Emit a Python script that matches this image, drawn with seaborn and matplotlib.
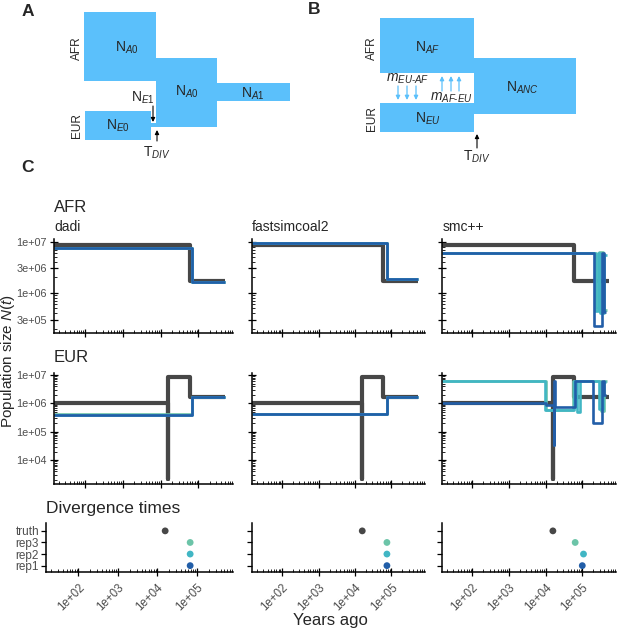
import numpy as np
import pandas as pd
import matplotlib
matplotlib.use("Agg")
import matplotlib.pyplot as plt
import seaborn as sns
from matplotlib.patches import Rectangle
from matplotlib.ticker import FixedLocator, LogLocator, NullFormatter, FixedFormatter

sns.set_theme(style="ticks")
plt.rcParams["font.family"] = ["Liberation Sans", "DejaVu Sans"]
plt.rcParams["mathtext.fontset"] = "custom"
plt.rcParams["mathtext.rm"] = "Liberation Sans"
plt.rcParams["mathtext.it"] = "Liberation Sans:italic"
plt.rcParams["mathtext.bf"] = "Liberation Sans:bold"

# ---------------- data ----------------
methods = ["dadi", "fastsimcoal2", "smc++"]
reps = ["rep3", "rep2", "rep1"]            # drawing order (rep1 on top)
div_categories = ["rep1", "rep2", "rep3", "truth"]
rep_colors = {"rep1": "#225ea8", "rep2": "#41b6c4", "rep3": "#6cc4a8"}
truth_color = "#474747"

x_ticks = [1e2, 1e3, 1e4, 1e5]
x_ticklabels = ["1e+02", "1e+03", "1e+04", "1e+05"]
afr_yticks = [3e5, 1e6, 3e6, 1e7]
afr_yticklabels = ["3e+05", "1e+06", "3e+06", "1e+07"]
eur_yticks = [1e4, 1e5, 1e6, 1e7]
eur_yticklabels = ["1e+04", "1e+05", "1e+06", "1e+07"]

# truth (years ago breakpoints, sizes per epoch)
truth_afr_t = [15, 6.0e4, 5.2e5]
truth_afr_n = [8.603e6, 1.72e6]
truth_eur_t = [15, 15460, 15800, 6.0e4, 5.2e5]
truth_eur_n = [1.075e6, 2200, 8.603e6, 1.72e6]
truth_tdiv = 15800

dadi_afr = {"rep1": ([15, 6.9e4, 5.2e5], [7.6e6, 1.65e6]),
            "rep2": ([15, 6.85e4, 5.2e5], [7.55e6, 1.64e6]),
            "rep3": ([15, 6.85e4, 5.2e5], [7.5e6, 1.63e6])}
dadi_eur = {"rep1": ([15, 6.9e4, 5.2e5], [4.0e5, 1.65e6]),
            "rep2": ([15, 6.85e4, 5.2e5], [4.05e5, 1.67e6]),
            "rep3": ([15, 6.85e4, 5.2e5], [4.1e5, 1.68e6])}
dadi_tdiv = {"rep1": 6.8e4, "rep2": 6.8e4, "rep3": 6.8e4}

fsc_afr = {"rep1": ([15, 7.4e4, 5.2e5], [9.5e6, 1.85e6]),
           "rep2": ([15, 7.35e4, 5.2e5], [9.45e6, 1.84e6]),
           "rep3": ([15, 7.35e4, 5.2e5], [9.4e6, 1.83e6])}
fsc_eur = {"rep1": ([15, 7.4e4, 5.2e5], [4.3e5, 1.66e6]),
           "rep2": ([15, 7.35e4, 5.2e5], [4.33e5, 1.67e6]),
           "rep3": ([15, 7.35e4, 5.2e5], [4.36e5, 1.68e6])}
fsc_tdiv = {"rep1": 7.5e4, "rep2": 7.5e4, "rep3": 7.5e4}

smc_afr = {"rep1": ([15, 2.1e5, 3.4e5, 4.0e5, 4.4e5], [6.0e6, 2.2e5, 6.0e6, 4.2e5]),
           "rep2": ([15, 2.25e5, 2.6e5, 3.1e5, 3.8e5, 4.6e5], [6.0e6, 4.5e5, 6.0e6, 4.0e5, 5.5e6]),
           "rep3": ([15, 2.35e5, 2.9e5, 3.6e5, 4.7e5], [6.0e6, 5.0e5, 6.3e6, 4.6e5])}
smc_eur = {"rep1": ([15, 1.0e4, 1.65e4, 1.72e4, 1.8e4, 6.2e4, 2.0e5, 3.4e5, 4.0e5, 4.4e5],
                    [1.0e6, 9.0e5, 3.4e4, 6.0e6, 7.4e5, 6.0e6, 2.0e5, 6.0e6, 2.0e6]),
           "rep2": ([15, 9.5e3, 6.0e4, 7.2e4, 8.5e4, 2.9e5, 3.6e5, 4.5e5],
                    [6.2e6, 5.7e5, 6.0e6, 4.8e5, 6.0e6, 6.5e5, 5.8e6]),
           "rep3": ([15, 1.0e4, 5.5e4, 3.2e5, 4.0e5, 4.7e5],
                    [6.2e6, 6.0e5, 6.2e6, 5.5e5, 6.2e6])}
smc_tdiv = {"rep1": 1.0e5, "rep2": 1.08e5, "rep3": 6.4e4}

afr_data = [dadi_afr, fsc_afr, smc_afr]
eur_data = [dadi_eur, fsc_eur, smc_eur]
tdiv_data = [dadi_tdiv, fsc_tdiv, smc_tdiv]

# ---------------- figure ----------------
W, H = 617, 632
fig = plt.figure(figsize=(W / 100, H / 100), dpi=100)
fig.patch.set_facecolor("white")

def add_ax(x0, x1, y0, y1):
    return fig.add_axes([x0 / W, 1 - y1 / H, (x1 - x0) / W, (y1 - y0) / H])

GRAY = "#4d4d4d"
TICK_FS = 7.8

def style(ax):
    for s in ["top", "right"]:
        ax.spines[s].set_visible(False)
    for s in ["left", "bottom"]:
        ax.spines[s].set_color("black")
        ax.spines[s].set_linewidth(1.1)
    ax.set_facecolor("white")
    ax.grid(False)
    ax.set_xscale("log")
    ax.set_xlim(15, 8.3e5)
    ax.xaxis.set_major_locator(FixedLocator(x_ticks))
    ax.xaxis.set_minor_locator(LogLocator(base=10, subs=np.arange(2, 10), numticks=20))
    ax.xaxis.set_minor_formatter(NullFormatter())
    ax.tick_params(axis="x", which="major", direction="inout", length=6, width=0.9,
                   color="black", labelcolor=GRAY, labelsize=8.3, pad=2)
    ax.tick_params(axis="x", which="minor", direction="in", length=2.3, width=0.6, color="black")

def steps(ax, t, n, color, lw):
    df = pd.DataFrame({"years": list(t), "N": list(n) + [n[-1]]})
    sns.lineplot(data=df, x="years", y="N", ax=ax, color=color, lw=lw,
                 drawstyle="steps-post", estimator=None, sort=False,
                 solid_capstyle="butt", solid_joinstyle="round")

col_x = [(54, 233), (252, 425), (442, 616)]
div_x = [(46, 233), (252, 425), (442, 616)]
row_afr = (239, 333)
row_eur = (373, 484)
row_div = (523, 572)

for ci in range(3):
    # AFR
    ax = add_ax(col_x[ci][0], col_x[ci][1], *row_afr)
    steps(ax, truth_afr_t, truth_afr_n, truth_color, 3.0)
    for r in reps:
        t, n = afr_data[ci][r]
        steps(ax, t, n, rep_colors[r], 1.9)
    style(ax)
    ax.set_yscale("log")
    ax.set_ylim(1.64e5, 1.13e7)
    ax.yaxis.set_major_locator(FixedLocator(afr_yticks))
    ax.yaxis.set_minor_locator(LogLocator(base=10, subs=np.arange(2, 10), numticks=20))
    ax.yaxis.set_minor_formatter(NullFormatter())
    if ci == 0:
        ax.yaxis.set_major_formatter(FixedFormatter(afr_yticklabels))
    else:
        ax.yaxis.set_major_formatter(NullFormatter())
    ax.tick_params(axis="y", which="major", direction="inout", length=6, width=0.9,
                   color="black", labelcolor=GRAY, labelsize=TICK_FS, pad=2)
    ax.tick_params(axis="y", which="minor", direction="in", length=2.3, width=0.6, color="black")
    ax.xaxis.set_major_formatter(NullFormatter())
    ax.set_xlabel(""); ax.set_ylabel("")

    # EUR
    ax = add_ax(col_x[ci][0], col_x[ci][1], *row_eur)
    steps(ax, truth_eur_t, truth_eur_n, truth_color, 3.0)
    for r in reps:
        t, n = eur_data[ci][r]
        steps(ax, t, n, rep_colors[r], 1.9)
    style(ax)
    ax.set_yscale("log")
    ax.set_ylim(1440, 1.18e7)
    ax.yaxis.set_major_locator(FixedLocator(eur_yticks))
    ax.yaxis.set_minor_locator(LogLocator(base=10, subs=np.arange(2, 10), numticks=20))
    ax.yaxis.set_minor_formatter(NullFormatter())
    if ci == 0:
        ax.yaxis.set_major_formatter(FixedFormatter(eur_yticklabels))
    else:
        ax.yaxis.set_major_formatter(NullFormatter())
    ax.tick_params(axis="y", which="major", direction="inout", length=6, width=0.9,
                   color="black", labelcolor=GRAY, labelsize=TICK_FS, pad=2)
    ax.tick_params(axis="y", which="minor", direction="in", length=2.3, width=0.6, color="black")
    ax.xaxis.set_major_formatter(NullFormatter())
    ax.set_xlabel(""); ax.set_ylabel("")

    # Divergence times
    ax = add_ax(div_x[ci][0], div_x[ci][1], *row_div)
    cats = ["truth"] + reps
    vals = [truth_tdiv] + [tdiv_data[ci][r] for r in reps]
    ddf = pd.DataFrame({"years": vals, "pos": [div_categories.index(c) for c in cats], "cat": cats})
    pal = {"truth": truth_color, **rep_colors}
    sns.scatterplot(data=ddf, x="years", y="pos", hue="cat", palette=pal, ax=ax,
                    s=24, edgecolor="none", legend=False)
    style(ax)
    ax.set_ylim(-0.55, 3.68)
    ax.set_yticks(range(len(div_categories)))
    if ci == 0:
        ax.set_yticklabels(div_categories)
    else:
        ax.set_yticklabels([])
    ax.tick_params(axis="y", which="major", direction="out", length=3.5, width=0.9,
                   color="black", labelcolor=GRAY, labelsize=8.5, pad=1.5)
    ax.set_xticklabels(x_ticklabels, rotation=45, ha="right", rotation_mode="anchor")
    ax.tick_params(axis="x", which="major", pad=4)
    ax.set_xlabel(""); ax.set_ylabel("")

# ---------------- overlay (diagrams and text) ----------------
ov = fig.add_axes([0, 0, 1, 1])
ov.set_xlim(0, W); ov.set_ylim(H, 0)
ov.axis("off")
ov.set_zorder(10)

def T(x, y, s, **kw):
    kw.setdefault("ha", "center"); kw.setdefault("va", "center")
    ov.text(x, y, s, **kw)

diag_color = "#5bc0fb"
A_boxes = [(84, 12, 156, 81), (156, 58, 217, 127), (217, 83, 290, 101),
           (85, 111, 151, 140), (151, 123, 156, 126.5)]
B_boxes = [(380, 18, 474, 73), (380, 103, 474, 132), (474, 58, 576, 114)]
for (x0, y0, x1, y1) in A_boxes + B_boxes:
    ov.add_patch(Rectangle((x0, y0), x1 - x0, y1 - y0, facecolor=diag_color,
                           edgecolor="none", lw=0))

# size labels
for (x, y, s) in [(127, 48, r"$\mathrm{N}_{A0}$"), (187, 92, r"$\mathrm{N}_{A0}$"),
                  (253, 94, r"$\mathrm{N}_{A1}$"), (118, 126, r"$\mathrm{N}_{E0}$"),
                  (143, 98, r"$\mathrm{N}_{E1}$"),
                  (428, 48, r"$\mathrm{N}_{AF}$"), (428, 119, r"$\mathrm{N}_{EU}$"),
                  (522, 88, r"$\mathrm{N}_{ANC}$")]:
    T(x, y, s, fontsize=10)
T(157, 153, r"$\mathrm{T}_{DIV}$", fontsize=10)
T(477, 157, r"$\mathrm{T}_{DIV}$", fontsize=10)
T(408, 79, r"$m_{EU‐AF}$", fontsize=10)
T(451, 98, r"$m_{AF‐EU}$", fontsize=10)
for (x, y, s) in [(77, 48, "AFR"), (77, 126, "EUR"), (372, 48, "AFR"), (372, 119, "EUR")]:
    T(x, y, s, fontsize=8.5, rotation=90)

# arrows
arrow_black = dict(arrowstyle="-|>", color="black", lw=0.8, mutation_scale=6, shrinkA=0, shrinkB=0)
ov.annotate("", xy=(153, 122), xytext=(153, 106), arrowprops=arrow_black)
ov.annotate("", xy=(157, 130), xytext=(157, 141), arrowprops=arrow_black)
ov.annotate("", xy=(477, 134), xytext=(477, 148), arrowprops=arrow_black)
arrow_blue = dict(arrowstyle="-|>", color=diag_color, lw=0.9, mutation_scale=6, shrinkA=0, shrinkB=0)
for x in [398, 407, 416]:
    ov.annotate("", xy=(x, 100), xytext=(x, 86), arrowprops=arrow_blue)
for x in [442, 451, 459]:
    ov.annotate("", xy=(x, 76), xytext=(x, 91), arrowprops=arrow_blue)

# panel letters
T(28, 11, "A", fontsize=12.5, fontweight="bold")
T(314, 9, "B", fontsize=12.5, fontweight="bold")
T(27, 167, "C", fontsize=12.5, fontweight="bold")

# panel C titles
T(54, 207, "AFR", fontsize=12, ha="left")
T(54, 227, methods[0], fontsize=10, ha="left")
T(252, 227, methods[1], fontsize=10, ha="left")
T(443, 227, methods[2], fontsize=10, ha="left")
T(54, 358, "EUR", fontsize=12, ha="left")
T(46, 509, "Divergence times", fontsize=12.5, ha="left")
T(8, 361, r"Population size $\mathit{N(t)}$", fontsize=11, rotation=90)
T(330, 621, "Years ago", fontsize=12)

fig.savefig("out.png", dpi=100, facecolor="white")
